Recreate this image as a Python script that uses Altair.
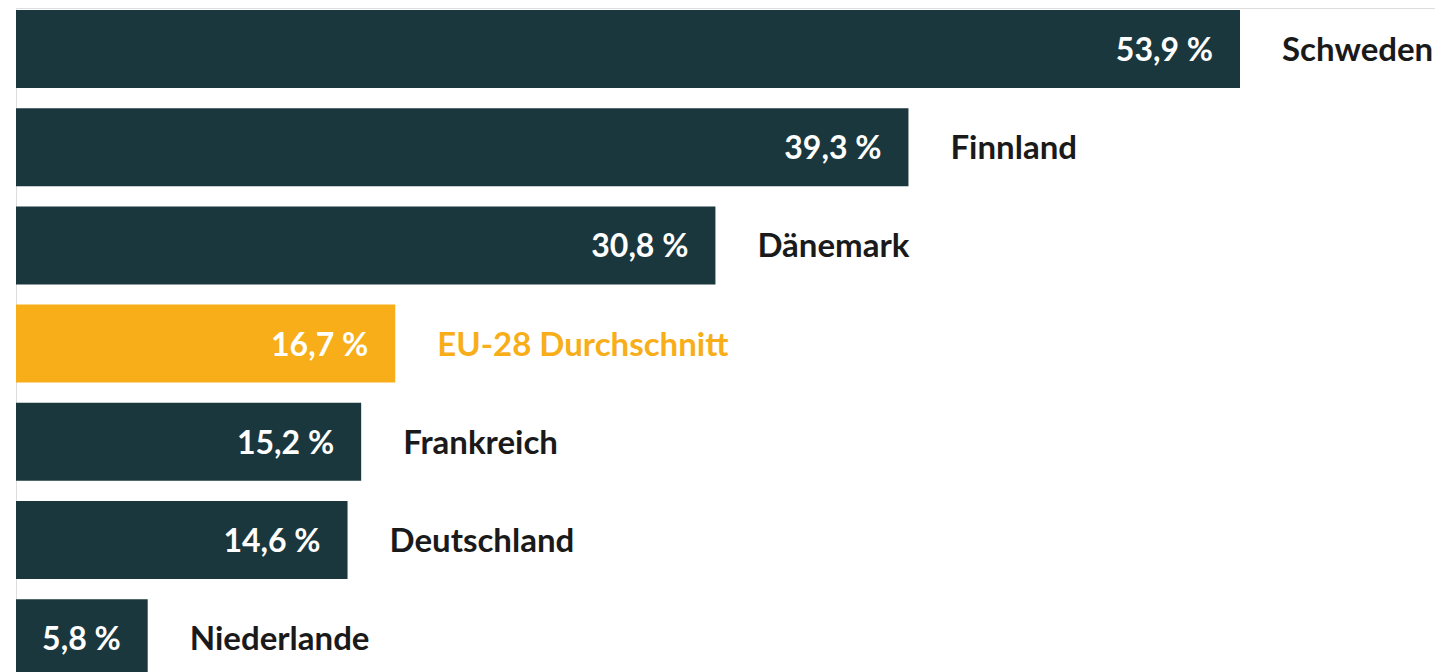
import altair as alt
import pandas as pd

countries = ["Schweden", "Finnland", "Dänemark", "EU-28 Durchschnitt",
             "Frankreich", "Deutschland", "Niederlande"]
values = [53.9, 39.3, 30.8, 16.7, 15.2, 14.6, 5.8]
labels = ["53,9 %", "39,3 %", "30,8 %", "16,7 %", "15,2 %", "14,6 %", "5,8 %"]
is_eu = [False, False, False, True, False, False, False]

df = pd.DataFrame({"land": countries, "wert": values, "label": labels,
                   "eu": ["EU" if e else "Land" for e in is_eu]})

DARK = "#1b373e"
YELLOW = "#f7ae18"

x = alt.X("wert:Q", axis=None, scale=alt.Scale(domain=[0, 53.9], range=[0, 1224]))
y = alt.Y("land:N", sort=None, axis=None,
          scale=alt.Scale(range=[2, 669.2], paddingInner=0.206, paddingOuter=0))

base = alt.Chart(df).encode(x=x, y=y)

bars = base.mark_bar(cornerRadius=0).encode(
    color=alt.Color("eu:N", scale=alt.Scale(domain=["Land", "EU"], range=[DARK, YELLOW]), legend=None)
)

vals = base.mark_text(align="right", baseline="middle", dx=-27, dy=2,
                      font="Lato", fontSize=32, fontWeight="bold", color="white").encode(
    text="label:N")

names = base.mark_text(align="left", baseline="middle", dx=42, dy=2,
                       font="Lato", fontSize=33, fontWeight="bold").encode(
    text="land:N",
    color=alt.Color("eu:N", scale=alt.Scale(domain=["Land", "EU"], range=["#1a1a1a", YELLOW]), legend=None))

chart = alt.layer(bars, vals, names).resolve_scale(color="independent").properties(
    width=1419, height=664,
    autosize=alt.AutoSizeParams(type="none"),
    padding={"left": 8, "top": 0, "right": 0, "bottom": 0},
).configure_view(stroke=None).configure(background="white")

chart.save("out.html", embed_options={"renderer": "svg", "actions": False})
